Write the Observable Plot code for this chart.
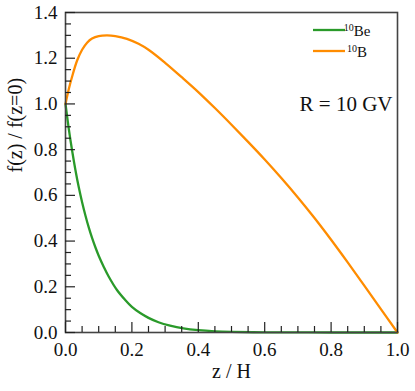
<!DOCTYPE html>
<html><head><meta charset="utf-8">
<script src="https://cdn.jsdelivr.net/npm/d3@7"></script>
<script src="https://cdn.jsdelivr.net/npm/@observablehq/plot@0.6"></script>
<style>
html,body{margin:0;padding:0;background:#fff}
svg{display:block}
</style>
</head><body><div id="chart"></div>
<script>
// 10Be (green) curve readings
const beZ = [0, 0.01, 0.02, 0.03, 0.04, 0.05, 0.06, 0.07, 0.08, 0.09, 0.10, 0.115, 0.13, 0.155, 0.18, 0.20, 0.225, 0.25, 0.28, 0.315, 0.355, 0.40, 0.45, 0.50, 0.60, 0.70, 0.80, 1.00];
const beF = [1.00, 0.89, 0.795, 0.71, 0.635, 0.57, 0.512, 0.46, 0.414, 0.373, 0.336, 0.288, 0.245, 0.186, 0.142, 0.112, 0.085, 0.064, 0.045, 0.030, 0.018, 0.010, 0.005, 0.0025, 0.0008, 0.0003, 0.0001, 0];
// 10B (orange) curve readings
const bZ = [0, 0.01, 0.02, 0.035, 0.05, 0.065, 0.08, 0.10, 0.125, 0.15, 0.185, 0.22, 0.25, 0.30, 0.35, 0.40, 0.45, 0.50, 0.55, 0.60, 0.65, 0.70, 0.75, 0.80, 0.85, 0.90, 0.95, 1.00];
const bF = [1.00, 1.065, 1.12, 1.19, 1.237, 1.268, 1.286, 1.297, 1.300, 1.297, 1.285, 1.263, 1.237, 1.180, 1.117, 1.052, 0.982, 0.909, 0.834, 0.757, 0.676, 0.591, 0.501, 0.406, 0.307, 0.205, 0.102, 0];

const seriesMass = ["10", "10"];
const seriesNames = ["Be", "B"];
const seriesColors = ["#2a9a2a", "#ff8c00"];

const xMajor = [0, 0.2, 0.4, 0.6, 0.8, 1.0];
const xMinor = [0.05, 0.1, 0.15, 0.25, 0.3, 0.35, 0.45, 0.5, 0.55, 0.65, 0.7, 0.75, 0.85, 0.9, 0.95];
const yMajor = [0, 0.2, 0.4, 0.6, 0.8, 1.0, 1.2, 1.4];
const yMinor = [0.05, 0.1, 0.15, 0.25, 0.3, 0.35, 0.45, 0.5, 0.55, 0.65, 0.7, 0.75, 0.85, 0.9, 0.95, 1.05, 1.1, 1.15, 1.25, 1.3, 1.35];

const xLabel = "z / H";
const yLabel = "f(z) / f(z=0)";
const annotation = "R = 10 GV";

const SERIF = "Liberation Serif";
const be = beZ.map((z, i) => ({z, f: beF[i]}));
const b = bZ.map((z, i) => ({z, f: bF[i]}));
const fmt = d3.format(".1f");

const plot = Plot.plot({
  width: 415, height: 391,
  marginLeft: 65, marginRight: 18, marginTop: 12, marginBottom: 59,
  style: {fontFamily: SERIF, fontSize: "19px", color: "#111", background: "#fff"},
  x: {domain: [0, 1]},
  y: {domain: [0, 1.4]},
  marks: [
    Plot.line(be, {x: "z", y: "f", stroke: seriesColors[0], strokeWidth: 2.3, curve: "catmull-rom"}),
    Plot.line(b, {x: "z", y: "f", stroke: seriesColors[1], strokeWidth: 2.3, curve: "catmull-rom"}),
    Plot.frame({stroke: "#444", strokeWidth: 1.6}),
    Plot.axisX({ticks: xMajor, tickSize: 0, tickPadding: 10, tickFormat: fmt, label: null, fontVariant: "normal"}),
    Plot.axisX({ticks: xMajor, tickSize: -10, fill: "none", label: null, stroke: "#222", strokeWidth: 1.2}),
    Plot.axisX({ticks: xMinor, tickSize: -6, fill: "none", label: null, stroke: "#222", strokeWidth: 1.2}),
    Plot.axisY({ticks: yMajor, tickSize: 0, tickPadding: 8, tickFormat: fmt, label: null, fontVariant: "normal"}),
    Plot.axisY({ticks: yMajor, tickSize: -10, fill: "none", label: null, stroke: "#222", strokeWidth: 1.2}),
    Plot.axisY({ticks: yMinor, tickSize: -6, fill: "none", label: null, stroke: "#222", strokeWidth: 1.2}),
    Plot.text([xLabel], {frameAnchor: "bottom", dy: 45, fontSize: 20}),
    Plot.text([yLabel], {frameAnchor: "left", rotate: -90, dx: -50, fontSize: 20}),
    Plot.text([annotation], {frameAnchor: "top-right", dx: -5, dy: 84, textAnchor: "end", fontSize: 21})
  ]
});

document.getElementById("chart").appendChild(plot);

// legend
const svg = d3.select(plot);
const lg = svg.append("g");
seriesNames.forEach((name, i) => {
  const y = 30 + i * 21;
  lg.append("line").attr("x1", 313).attr("x2", 345).attr("y1", y).attr("y2", y)
    .attr("stroke", seriesColors[i]).attr("stroke-width", 2.3);
  const t = lg.append("text").attr("x", 357).attr("y", y + 6).attr("fill", "#111");
  t.append("tspan").attr("font-size", 10).attr("dy", -5).text(seriesMass[i]);
  t.append("tspan").attr("font-size", 15).attr("dy", 5).text(name);
});

// force the serif face on every text element
svg.selectAll("g, text, tspan").attr("font-family", SERIF);
svg.selectAll("text, tspan").style("font-family", SERIF);
</script>
</body></html>
